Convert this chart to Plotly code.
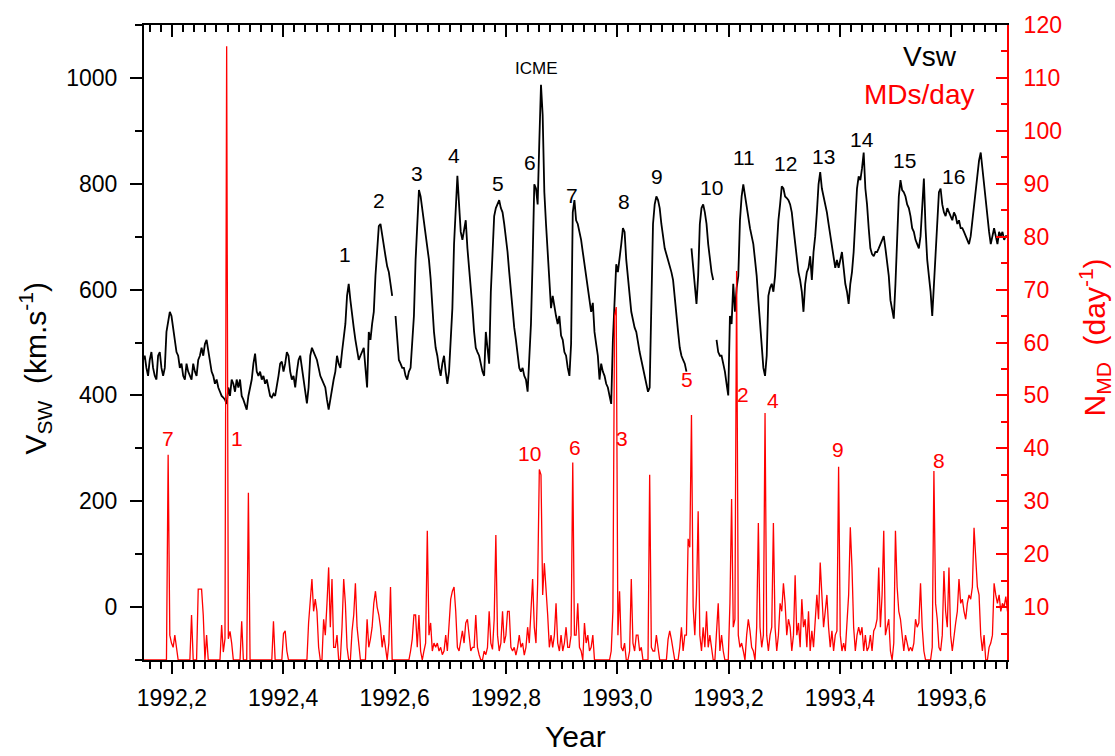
import numpy as np
import plotly.graph_objects as go

# ---------------- data ----------------
# regular sampling in decimal years (approx. 1.1 day spacing)
sample_start_year = 1992.1423
sample_step_year = 0.003003

vsw_part1 = [482, 490, 467, 475, 452, 437, 467, 482, 452, 437,
             430, 475, 482, 452, 437, 452, 520, 543, 558, 550,
             528, 497, 482, 475, 452, 460, 437, 430, 460, 445,
             437, 430, 460, 445, 437, 467, 475, 490, 475, 497,
             505, 482, 460, 445, 437, 422, 430, 415, 407, 399,
             396, 392, 384, 415, 399, 430, 422, 407, 430, 415,
             430, 399, 392, 384, 373, 399, 415, 430, 460, 479,
             445, 437, 445, 430, 437, 422, 430, 415, 399, 396,
             403, 399, 415, 437, 460, 464, 445]
vsw_part2 = [460, 482, 475, 445, 430, 437, 415, 445, 467, 475,
             452, 430, 407, 385, 415, 475, 490, 482, 475, 467,
             452, 437, 430, 422, 415, 392, 373, 392, 415, 430,
             445, 475, 460, 452, 482, 505, 535, 588, 611, 580,
             550, 528, 505, 482, 467, 475, 482, 490, 452, 415,
             520, 505, 535, 558, 626, 686, 720, 724, 701, 686,
             663, 644, 633, 611, 588, None, 550, 505, 467, 460,
             452, 452, 437, 430, 445, 452, 505, 550, 656, 739,
             788, 776, 754, 731, 701, 686, 656]
vsw_part3 = [620, 565, 520, 490, 475, 452, 437, 460, 475, 445,
             422, 445, 505, 565, 686, 761, 815, 761, 709, 694,
             716, 731, 678, 641, 611, 565, 520, 490, 482, 475,
             460, 445, 437, 520, 490, 460, 596, 686, 739, 754,
             761, 769, 754, 746, 724, 701, 671, 633, 596, 558,
             528, 505, 482, 452, 445, 452, 437, 430, 407, 475,
             535, 656, 799, 791, 761, 880, 987, 930, 784, 724,
             671, 611, 565, 588, 565, 550, 535, 550, 513, 505,
             482, 475, 452, 437, 497, 746, 769]
vsw_part4 = [731, 724, 709, 694, 671, 648, 626, 611, 588, 558,
             575, 520, 497, 475, 430, 460, 445, 437, 422, 415,
             399, 384, 505, 596, 648, 633, 656, 686, 716, 709,
             656, 618, 588, 558, 543, 528, 520, 497, 482, 467,
             452, 437, 422, 407, 415, 580, 724, 761, 776, 769,
             754, 724, 701, 678, 667, 656, 648, 633, 618, 580,
             550, 520, 490, 475, 467, 460, 445, None, None, 678,
             641, 603, 573, 626, 724, 754, 761, 746, 724, 686,
             656, 633, 618, None, 505, 482, 475]
vsw_part5 = [475, 460, 445, 422, 400, 550, 535, 611, 558, 603,
             626, 731, 776, 799, 776, 761, 739, 716, 701, 686,
             656, 626, 580, 535, 490, 452, 437, 475, 588, 603,
             611, 596, 626, 686, 731, 761, 795, 791, 776, 773,
             769, 761, 746, 716, 686, 656, 633, 618, 596, 558,
             611, 633, 641, 663, 618, 671, 701, 746, 799, 822,
             791, 776, 761, 746, 724, 701, 678, 656, 641, 656,
             641, 656, 671, 641, 611, 596, 573, 611, 633, 671,
             739, 791, 814, 807, 829, 859, 791]
vsw_part6 = [761, 716, 678, 667, 663, 671, 671, 678, 686, 694,
             701, 678, 656, 626, 580, 558, 545, 611, 701, 776,
             807, 788, 784, 776, 761, 754, 739, 716, 709, 694,
             686, 678, 701, 761, 810, 716, 656, 626, 596, 550,
             611, 686, 739, 784, 791, 761, 746, 739, 754, 746,
             739, 731, 746, 739, 724, 731, 716, 716, 709, 701,
             694, 686, 701, 731, 761, 791, 814, 844, 859, 829,
             791, 761, 739, 709, 686, 701, 716, 701, 686, 709,
             701, 709, 694, 701, 701, 686, 671]

md_part1 = [0, 0, 0, 0, 0, 0, 0, 0, 0, 0,
            0, 0, 0, 0, 0, 0, 0, 38.8, 4.7, 3.2,
            2.4, 4.7, 2.4, 0, 0, 0, 0, 0, 0, 0,
            0, 8.5, 0, 0, 0, 13.4, 13.4, 13.4, 8.5, 0,
            4.7, 0, 0, 0, 0, 0, 0, 0, 0, 6.6,
            1.5, 4, 116, 4, 5.4, 3.2, 0, 0, 0, 0,
            0, 7.3, 0, 0, 0, 31.6, 0, 0, 0, 0,
            0, 0, 0, 0, 0, 0, 0, 0, 0, 0,
            7.3, 0, 0, 0, 0, 0, 5]
md_part2 = [5.5, 1.7, 0, 0, 0, 0, 0, 0, 0, 0,
            0, 0, 0, 0, 7.0, 10.7, 15.3, 9.2, 11.5, 9.2,
            2.4, 0, 0, 7.7, 4.7, 10.7, 17.5, 6.2, 15.3, 2.4,
            2.4, 4.7, 0, 0, 6.2, 15.3, 10.7, 2.4, 0, 0,
            5.5, 8.5, 14.5, 6.2, 2.4, 0, 0, 0, 0, 7.7,
            2.4, 4, 6.2, 10.7, 13.0, 10.0, 8.5, 6.2, 2.4, 4.7,
            1.7, 0, 3.2, 13.8, 0, 0, 0, 0, 0, 0,
            0, 0, 0, 0, 0, 1.7, 4, 8.5, 8.5, 2.4,
            8.5, 1.7, 0, 1.7, 3.2, 24.4, 4.7]
md_part3 = [7.0, 1.7, 3.2, 2.4, 3.2, 1.7, 2.4, 1.0, 1.7, 4.7,
            1.7, 6.2, 11.5, 13.0, 13.8, 9.2, 2.4, 1.7, 3.9, 5.5,
            3.2, 7.0, 7.7, 4.7, 1.7, 2.4, 2.4, 8.5, 2.4, 1.0,
            0, 0, 1.7, 1.0, 2.4, 9.2, 3.2, 2.0, 7.7, 23.6,
            4.7, 1.7, 3.2, 9.2, 3.2, 4.7, 9.2, 9.2, 2.4, 1.7,
            2.4, 0.9, 2.4, 4.7, 2.4, 3.2, 0.9, 2.4, 6.2, 3.2,
            9.2, 15.3, 6.2, 3.2, 14.5, 36, 35, 12.3, 18.3, 13.8,
            8.5, 2.4, 4.7, 2.4, 4.7, 10.7, 3.2, 1.7, 4.7, 1.7,
            3.2, 6.2, 2.4, 2.4, 4.7, 37.3, 4.7]
md_part4 = [4.7, 10.7, 2.4, 1.7, 0, 7.0, 3.2, 4.7, 1.7, 2.4,
            4.7, 0, 0, 0, 0, 0, 0, 0, 0, 0,
            0, 1.7, 9.2, 65, 66.7, 4.7, 13.0, 2.4, 1.7, 3.2,
            0, 0, 1.7, 15.3, 3.2, 1.7, 4.7, 4.7, 1.7, 2.4,
            0, 0, 0, 0, 35, 2.4, 1.7, 1.7, 4.7, 1.7,
            0, 0, 0, 0, 0, 3.9, 5.5, 3.9, 1.7, 0,
            0, 0, 2.4, 6.2, 1.7, 4.7, 4.7, 22.9, 21.3, 46.3,
            10.0, 4.7, 12.3, 28.1, 4.7, 1.7, 6.2, 2.4, 9.2, 2.4,
            4.7, 1.7, 0, 0, 6.2, 10.7, 1.7]
md_part5 = [4.7, 1.7, 0, 0, 0, 10.7, 30.4, 6.2, 7.7, 73.5,
            4.7, 2.4, 3.2, 1.7, 0, 4.7, 7.7, 5.5, 2.4, 1.7,
            0, 6.2, 25.9, 6.2, 2.4, 4.7, 46.7, 4.7, 1.7, 4.7,
            6.2, 25.9, 6.2, 1.7, 4.7, 10.7, 9.2, 14.5, 10.7, 4.7,
            7.7, 6.2, 1.7, 4.7, 16.0, 4.7, 7.0, 2.4, 11.5, 6.2,
            7.7, 2.4, 9.2, 1.7, 5.5, 2.4, 7.0, 12.3, 7.7, 18.4,
            12.3, 6.2, 9.2, 12.3, 6.2, 2.4, 5.5, 1.7, 4.7, 5.5,
            36.5, 4.7, 1.7, 3.2, 1.7, 7.7, 12.3, 25.1, 17.5, 6.2,
            1.7, 4.7, 6.2, 4.7, 6.2, 1.7, 4.7]
md_part6 = [1.7, 2.4, 4.7, 1.7, 5.5, 6.2, 7.7, 17.5, 6.2, 12.3,
            24.4, 4.7, 6.2, 7.7, 1.7, 0, 3.2, 24.4, 13.8, 9.2,
            7.7, 4.7, 1.7, 4.7, 3.2, 1.7, 2.4, 1.7, 3.2, 7.7,
            6.2, 7.0, 14.5, 6.2, 1.7, 0, 0, 0, 0, 2.4,
            35.7, 10.7, 7.7, 2.4, 1.7, 4.7, 16.8, 9.2, 6.2, 17.5,
            4.7, 1.7, 4.7, 7.0, 9.2, 15.3, 10.7, 11.5, 9.2, 7.7,
            10.7, 12.3, 11.5, 13.8, 25, 18.3, 13.8, 12.3, 4.7, 1.7,
            4.7, 0, 0, 2.4, 3.2, 4.7, 14.5, 12.3, 10.7, 12.3,
            9.2, 10.7, 10.0, 12.0, 9.2, 10.0, 8.0]

x_tick_years = [1992.2, 1992.4, 1992.6, 1992.8, 1993.0, 1993.2, 1993.4, 1993.6]
x_tick_labels = ["1992,2", "1992,4", "1992,6", "1992,8", "1993,0", "1993,2", "1993,4", "1993,6"]
vsw_ticks = [0, 200, 400, 600, 800, 1000]
md_ticks = [10, 20, 30, 40, 50, 60, 70, 80, 90, 100, 110, 120]

# labels of high-speed streams (Vsw peaks)
stream_labels = ["1", "2", "3", "4", "5", "6", "7", "8", "9", "10", "11", "12", "13", "14", "15", "16", "ICME"]
stream_label_year = [1992.5117, 1992.5712, 1992.6396, 1992.7063, 1992.7856, 1992.8432, 1992.9189,
                     1993.0126, 1993.0721, 1993.1694, 1993.2270, 1993.3027, 1993.3712, 1993.4396,
                     1993.5153, 1993.6036, 1992.8541]
stream_label_v = [667, 769, 820, 853, 801, 840, 777, 766, 813, 792, 850, 838, 852, 883, 844, 813, 1018]

# labels of MD peaks
md_labels = ["7", "1", "10", "6", "3", "5", "2", "4", "9", "8"]
md_label_year = [1992.1928, 1992.3171, 1992.8432, 1992.9243, 1993.0090, 1993.1261, 1993.2252,
                 1993.2793, 1993.3964, 1993.5784]
md_label_n = [41.8, 41.8, 39.0, 40.1, 41.8, 53.0, 50.1, 49.1, 39.8, 37.7]

# ---------------- figure ----------------
vsw_kms = vsw_part1 + vsw_part2 + vsw_part3 + vsw_part4 + vsw_part5 + vsw_part6
md_per_day = md_part1 + md_part2 + md_part3 + md_part4 + md_part5 + md_part6
years = sample_start_year + sample_step_year * np.arange(len(vsw_kms))

FONT = "Arial, 'Liberation Sans', sans-serif"
RED = "#ff0000"
x_range = [1992.15, 1993.70]

fig = go.Figure()
fig.add_trace(go.Scatter(x=years, y=vsw_kms, mode="lines", connectgaps=False,
                         line=dict(color="black", width=1.8), xaxis="x", yaxis="y",
                         name="Vsw", hoverinfo="skip"))
fig.add_trace(go.Scatter(x=years, y=md_per_day, mode="lines",
                         line=dict(color=RED, width=1.3), xaxis="x", yaxis="y2",
                         name="MDs/day", hoverinfo="skip"))
# dummy trace registering the top (mirror) axis
fig.add_trace(go.Scatter(x=[None], y=[None], xaxis="x2", yaxis="y", showlegend=False,
                         hoverinfo="skip"))

annotations = []
for t, xv, yv in zip(stream_labels, stream_label_year, stream_label_v):
    annotations.append(dict(text=t, x=xv, y=yv, xref="x", yref="y", showarrow=False,
                            xanchor="center", yanchor="middle",
                            font=dict(size=17 if t == "ICME" else 21, color="black", family=FONT)))
for t, xv, yv in zip(md_labels, md_label_year, md_label_n):
    annotations.append(dict(text=t, x=xv, y=yv, xref="x", yref="y2", showarrow=False,
                            xanchor="center", yanchor="middle",
                            font=dict(size=21, color=RED, family=FONT)))

annotations += [
    dict(text="V<sub>SW</sub>  (km.s<sup>-1</sup>)", textangle=-90, x=-0.1263, y=0.459,
         xref="paper", yref="paper", xanchor="center", yanchor="middle", showarrow=False,
         font=dict(size=30, color="black", family=FONT)),
    dict(text="N<sub>MD</sub>  (day<sup>-1</sup>)", textangle=-90, x=1.102, y=0.508,
         xref="paper", yref="paper", xanchor="center", yanchor="middle", showarrow=False,
         font=dict(size=30, color=RED, family=FONT)),
    dict(text="Year", x=0.5, y=-0.1203, xref="paper", yref="paper",
         xanchor="center", yanchor="middle", showarrow=False,
         font=dict(size=30, color="black", family=FONT)),
    dict(text="Vsw", x=0.9108, y=0.95, xref="paper", yref="paper",
         xanchor="center", yanchor="middle", showarrow=False,
         font=dict(size=28, color="black", family=FONT)),
    dict(text="MDs/day", x=0.898, y=0.8906, xref="paper", yref="paper",
         xanchor="center", yanchor="middle", showarrow=False,
         font=dict(size=28, color=RED, family=FONT)),
]

fig.update_layout(
    width=1115, height=756, autosize=False,
    margin=dict(l=144, r=108, t=20, b=96),
    paper_bgcolor="white", plot_bgcolor="white",
    showlegend=False,
    font=dict(family=FONT, color="black"),
    xaxis=dict(range=x_range, tickmode="array", tickvals=x_tick_years, ticktext=x_tick_labels,
               ticks="outside", ticklen=12, tickwidth=2, tickcolor="black",
               showline=True, linewidth=2, linecolor="black", showgrid=False, zeroline=False,
               tickfont=dict(size=23, color="black", family=FONT), ticklabelstandoff=4,
               minor=dict(tick0=1992.2, dtick=0.02, ticks="outside", ticklen=7, tickwidth=1.5,
                          tickcolor="black", showgrid=False),
               anchor="y"),
    xaxis2=dict(range=x_range, overlaying="x", side="top", anchor="y",
                tickmode="array", tickvals=x_tick_years, ticks="inside", ticklen=12, tickwidth=2,
                tickcolor="black", showticklabels=False, showline=True, linewidth=2,
                linecolor="black", showgrid=False, zeroline=False,
                minor=dict(tick0=1992.2, dtick=0.02, ticks="inside", ticklen=7, tickwidth=1.5,
                           tickcolor="black", showgrid=False)),
    yaxis=dict(range=[-100, 1100], tickmode="array", tickvals=vsw_ticks,
               ticks="outside", ticklen=12, tickwidth=2, tickcolor="black",
               showline=True, linewidth=2, linecolor="black", showgrid=False, zeroline=False,
               tickfont=dict(size=23, color="black", family=FONT), ticklabelstandoff=8,
               minor=dict(tick0=0, dtick=100, ticks="outside", ticklen=7, tickwidth=1.5,
                          tickcolor="black", showgrid=False),
               anchor="x"),
    yaxis2=dict(range=[0, 120], overlaying="y", side="right", anchor="x",
                tickmode="array", tickvals=md_ticks,
                ticks="inside", ticklen=11, tickwidth=2, tickcolor=RED,
                showline=True, linewidth=2, linecolor=RED, showgrid=False, zeroline=False,
                tickfont=dict(size=23, color=RED, family=FONT), ticklabelstandoff=10,
                minor=dict(tick0=0, dtick=5, ticks="inside", ticklen=6, tickwidth=1.5,
                           tickcolor=RED, showgrid=False)),
    annotations=annotations,
)

fig.write_html("out.html")
